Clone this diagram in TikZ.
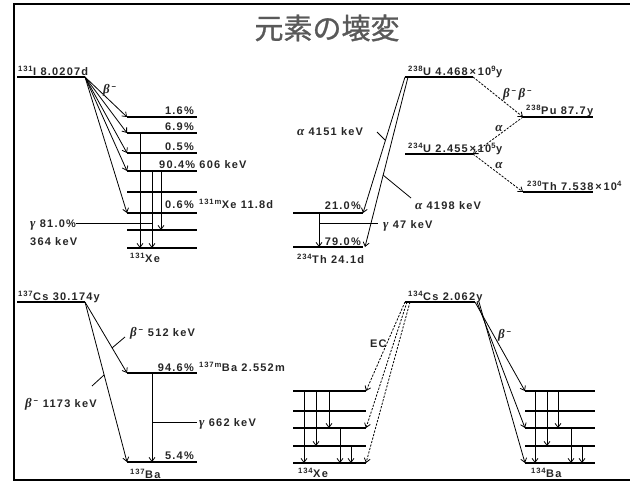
\documentclass[tikz,border=0pt]{standalone}
\usepackage{fontspec}
\setmainfont{Liberation Sans}
\newfontfamily\lab{Liberation Sans}[LetterSpace=11]
\newfontfamily\grk{Liberation Serif}
\newfontfamily\cjk{Noto Sans CJK JP}[FakeBold=1]
\usetikzlibrary{arrows.meta}
\newcommand\nuc[2]{\textsuperscript{#1}#2}
\newcommand\Gk[1]{{\grk\itshape\fontsize{13}{12}\selectfont #1}}
\newcommand\bm{\Gk{β}\,\textsuperscript{−}}
\tikzset{
 lev/.style={line width=1.5pt},
 arr/.style={line width=0.8pt,-{Straight Barb[length=4pt,width=6pt]}},
 dsh/.style={arr,dash pattern=on 2.2pt off 1.4pt},
 ldr/.style={line width=0.8pt},
 lab/.style={font=\lab\bfseries\fontsize{11}{12}\selectfont, inner sep=0pt, text=black!85},
}
\begin{document}
\begin{tikzpicture}[x=1pt,y=-1pt]
\useasboundingbox (0,0) rectangle (630,482);
\draw[line width=1.2pt] (630,4) -- (14,4) -- (14,480) -- (630,480);
\node[font=\cjk\fontsize{29}{30}\selectfont, text=black!65] (title) at (327,28) {元素の壊変};

% ---------------- I-131 ----------------
\coordinate (I0L) at (17,77);  \coordinate (I0R) at (85,77);
\foreach \n/\y in {1/117,2/133,3/153,4/171,5/192,6/213,7/230,8/248}{
  \coordinate (I\n L) at (127,\y); \coordinate (I\n R) at (197,\y);
  \draw[lev] (I\n L) -- (I\n R);
}
\draw[lev] (I0L) -- (I0R);
\foreach \n in {1,2,3,4,6}{ \draw[arr] (I0R) -- (I\n L); }
\coordinate (ga1) at (140,133); \coordinate (gb1) at (140,248);
\coordinate (ga2) at (152,171); \coordinate (gb2) at (152,248);
\coordinate (ga3) at (161,171); \coordinate (gb3) at (161,230);
\draw[arr] (ga1) -- (gb1);
\draw[arr] (ga2) -- (gb2);
\draw[arr] (ga3) -- (gb3);
\node[lab,anchor=base west] (tI) at (18,75) {\nuc{131}{I} 8.0207d};
\node[lab,anchor=base west] (tIb) at (103,93) {\bm};
\node[lab,anchor=base east] (t16) at (194,114) {1.6\%};
\node[lab,anchor=base east] (t69) at (194,130.5) {6.9\%};
\node[lab,anchor=base east] (t05) at (194,150) {0.5\%};
\node[lab,anchor=base west] (t904) at (159,168) {90.4\% 606 keV};
\node[lab,anchor=base east] (t06) at (194,208) {0.6\%};
\node[lab,anchor=base west] (tXem) at (199,208) {\nuc{131m}{Xe} 11.8d};
\node[lab,anchor=base west] (tg81) at (30,227) {\Gk{γ} 81.0\%};
\node[lab,anchor=base west] (t364) at (30,245) {364 keV};
\coordinate (gl81) at (152,223);
\draw[ldr] (tg81.east |- gl81) -- (gl81);
\node[lab,anchor=base west] (tXe131) at (130,262) {\nuc{131}{Xe}};

% ---------------- U-238 ----------------
\coordinate (U0L) at (405,77); \coordinate (U0b) at (408,77); \coordinate (U0R) at (473,77);
\coordinate (U1L) at (405,154); \coordinate (U1R) at (473,154);
\coordinate (PuL) at (523,117); \coordinate (PuR) at (593,117);
\coordinate (ThL) at (523,192); \coordinate (ThR) at (593,192);
\coordinate (T1L) at (293,213); \coordinate (T1R) at (363,213);
\coordinate (T2L) at (293,247); \coordinate (T2R) at (363,247);
\coordinate (T2a) at (365,247);
\draw[lev] (U0L) -- (U0R);
\draw[lev] (U1L) -- (U1R);
\draw[lev] (PuL) -- (PuR);
\draw[lev] (ThL) -- (ThR);
\draw[lev] (T1L) -- (T1R);
\draw[lev] (T2L) -- (T2R);
\draw[dsh] (U0R) -- (PuL);
\draw[dsh] (PuL) -- (U1R);
\draw[dsh] (U1R) -- (ThL);
\draw[arr] (U0L) -- (T1R);
\draw[arr] (U0b) -- (T2a);
\coordinate (gTa) at (319,213); \coordinate (gTb) at (319,247);
\draw[arr] (gTa) -- (gTb);
\coordinate (g47s) at (319,223); \coordinate (g47e) at (378,223);
\draw[ldr] (g47s) -- (g47e);
\node[lab,anchor=base west] (tU238) at (408,75) {\nuc{238}{U} 4.468\,×\,10\textsuperscript{9}y};
\node[lab,anchor=base west] (tbb) at (503,97) {\bm\,\bm};
\node[lab,anchor=base west] (tPu) at (526,114) {\nuc{238}{Pu} 87.7y};
\node[lab] (ta1) at (499,128) {\Gk{α}};
\node[lab,anchor=base west] (tU234) at (408,152) {\nuc{234}{U} 2.455\,×\,10\textsuperscript{5}y};
\node[lab] (ta2) at (499,165) {\Gk{α}};
\node[lab,anchor=base west] (tTh230) at (527,190) {\nuc{230}{Th} 7.538\,×\,10\textsuperscript{4}};
\node[lab,anchor=base west] (ta4151) at (297,135) {\Gk{α} 4151 keV};
\coordinate (pA) at (385,140);
\draw[ldr] (377,132) coordinate (pA0) -- (pA);
\coordinate (pB) at (383,175); \coordinate (pB1) at (411,198);
\draw[ldr] (pB) -- (pB1);
\node[lab,anchor=base west] (ta4198) at (415,209) {\Gk{α} 4198 keV};
\node[lab,anchor=base east] (t21) at (361,209) {21.0\%};
\node[lab,anchor=base east] (t79) at (361,245) {79.0\%};
\node[lab,anchor=base west] (tg47) at (383,228) {\Gk{γ} 47 keV};
\node[lab,anchor=base west] (tTh234) at (297,263) {\nuc{234}{Th} 24.1d};

% ---------------- Cs-137 ----------------
\coordinate (C0L) at (17,302); \coordinate (C0R) at (85,302);
\coordinate (C1L) at (127,373); \coordinate (C1R) at (197,373);
\coordinate (C2L) at (127,462); \coordinate (C2R) at (197,462);
\draw[lev] (C0L) -- (C0R);
\draw[lev] (C1L) -- (C1R);
\draw[lev] (C2L) -- (C2R);
\draw[arr] (C0R) -- (C1L);
\draw[arr] (C0R) -- (C2L);
\coordinate (gCa) at (152,373); \coordinate (gCb) at (152,462);
\draw[arr] (gCa) -- (gCb);
\coordinate (g662s) at (152,422); \coordinate (g662e) at (197,422);
\draw[ldr] (g662s) -- (g662e);
\coordinate (l512a) at (112,348); \coordinate (l512b) at (125,337);
\draw[ldr] (l512a) -- (l512b);
\coordinate (l1173a) at (104,375); \coordinate (l1173b) at (92,386);
\draw[ldr] (l1173a) -- (l1173b);
\node[lab,anchor=base west] (tCs137) at (18,300) {\nuc{137}{Cs} 30.174y};
\node[lab,anchor=base west] (t512) at (130,336) {\bm\ 512 keV};
\node[lab,anchor=base east] (t946) at (194,371) {94.6\%};
\node[lab,anchor=base west] (tBam) at (199,371) {\nuc{137m}{Ba} 2.552m};
\node[lab,anchor=base west] (t1173) at (25,407) {\bm\ 1173 keV};
\node[lab,anchor=base west] (t662) at (199,426) {\Gk{γ} 662 keV};
\node[lab,anchor=base east] (t54) at (194,459) {5.4\%};
\node[lab,anchor=base west] (tBa137) at (130,478) {\nuc{137}{Ba}};

% ---------------- Cs-134 ----------------
\coordinate (K0L) at (405,302); \coordinate (K0R) at (475,302);
\coordinate (K0a) at (407,302); \coordinate (K0b) at (410,302);
\coordinate (K0c) at (477,302); \coordinate (K0d) at (479,302);
\draw[lev] (K0L) -- (K0R);
\foreach \n/\y in {1/391,2/411,3/428,4/446,5/463}{
  \coordinate (X\n L) at (293,\y); \coordinate (X\n R) at (366,\y);
  \coordinate (B\n L) at (525,\y); \coordinate (B\n R) at (595,\y);
  \draw[lev] (X\n L) -- (X\n R);
  \draw[lev] (B\n L) -- (B\n R);
}
\draw[dsh] (K0L) -- (X1R);
\draw[dsh] (K0a) -- (X3R);
\draw[dsh] (K0b) -- (X5R);
\draw[arr] (K0R) -- (B1L);
\draw[arr] (K0c) -- (B3L);
\draw[arr] (K0d) -- (B5L);
\foreach \x/\a/\b in {304/391/463,316/391/446,329/391/428,340/428/463,351/446/463,
                      535/391/463,547/391/446,558/391/428,571/428/463,582/446/463}{
  \coordinate (va\x) at (\x,\a); \coordinate (vb\x) at (\x,\b);
  \draw[arr] (va\x) -- (vb\x);
}
\node[lab,anchor=base west] (tCs134) at (408,300) {\nuc{134}{Cs} 2.062y};
\node[lab,anchor=base west] (tEC) at (370,347) {EC};
\node[lab,anchor=base west] (tb134) at (498,338) {\bm};
\node[lab,anchor=base west] (tXe134) at (298,477) {\nuc{134}{Xe}};
\node[lab,anchor=base west] (tBa134) at (531,477) {\nuc{134}{Ba}};
\end{tikzpicture}
\end{document}
